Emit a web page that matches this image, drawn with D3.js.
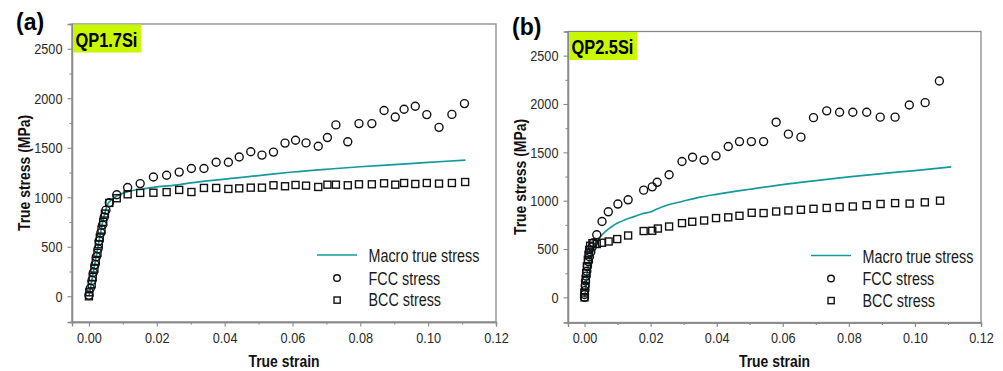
<!DOCTYPE html>
<html>
<head>
<meta charset="utf-8">
<script src="https://cdn.jsdelivr.net/npm/d3@7"></script>
<style>
  body { margin: 0; background: #fff; }
  svg { display: block; }
</style>
</head>
<body>
<div id="vis"></div>
<script>
// ---- datos: [true strain, true stress (MPa)] ----
const macroA = [[0,0],[0.001,190],[0.002,375],[0.003,560],[0.004,745],[0.005,880],[0.0055,929],[0.0067,975],[0.0086,1020],[0.0111,1053],[0.016,1085],[0.02,1105],[0.0268,1128],[0.03,1145],[0.04,1183],[0.05,1218],[0.054,1234],[0.06,1255],[0.072,1288],[0.08,1308],[0.09,1330],[0.1,1352],[0.111,1376]];
const fccA = [[0,10],[0.0004,80],[0.0009,160],[0.0013,240],[0.0018,320],[0.0022,400],[0.0027,480],[0.003,560],[0.0035,640],[0.004,720],[0.0045,800],[0.005,870],[0.006,945],[0.0082,1025],[0.0114,1098],[0.0151,1138],[0.019,1205],[0.0229,1222],[0.0266,1254],[0.0302,1290],[0.0339,1290],[0.0375,1354],[0.0411,1354],[0.0443,1407],[0.0477,1460],[0.051,1426],[0.0544,1456],[0.0578,1547],[0.0609,1576],[0.064,1549],[0.0676,1515],[0.0703,1603],[0.0728,1731],[0.0763,1560],[0.0796,1744],[0.0834,1744],[0.087,1876],[0.0903,1810],[0.0929,1889],[0.0962,1919],[0.0996,1835],[0.1032,1706],[0.107,1837],[0.1107,1946]];
const bccA = [[0,0],[0.0001,40],[0.0008,121],[0.0011,195],[0.0016,279],[0.002,357],[0.0025,438],[0.0029,525],[0.0032,593],[0.0037,673],[0.0042,751],[0.0047,835],[0.006,943],[0.0082,990],[0.0114,1030],[0.0151,1044],[0.019,1046],[0.0229,1052],[0.0266,1074],[0.0302,1053],[0.0339,1094],[0.0375,1094],[0.0411,1084],[0.0443,1090],[0.0477,1097],[0.051,1097],[0.0544,1121],[0.0578,1111],[0.0609,1124],[0.064,1117],[0.0676,1104],[0.0703,1127],[0.0728,1127],[0.0763,1121],[0.0796,1131],[0.0834,1131],[0.087,1141],[0.0903,1127],[0.0929,1144],[0.0962,1134],[0.0996,1144],[0.1032,1138],[0.107,1144],[0.1109,1154]];

const macroB = [[0,0],[0.0002,30],[0.0005,150],[0.0008,250],[0.0012,340],[0.0017,424],[0.0025,500],[0.0032,544],[0.0042,600],[0.0053,648],[0.0068,695],[0.0083,733],[0.01,768],[0.0123,803],[0.015,835],[0.0174,865],[0.0204,889],[0.0214,906],[0.0254,958],[0.0295,992],[0.035,1037],[0.04,1066],[0.05,1118],[0.06,1167],[0.07,1208],[0.08,1246],[0.09,1280],[0.1,1311],[0.111,1350]];
const fccB = [[0,0],[0,30],[0.0001,70],[0.0002,120],[0.0003,170],[0.0005,220],[0.0007,270],[0.0009,320],[0.0012,370],[0.0015,420],[0.0019,470],[0.0023,520],[0.0027,566],[0.0037,648],[0.0053,785],[0.0072,885],[0.0101,965],[0.0132,1009],[0.0179,1109],[0.0205,1143],[0.022,1190],[0.0256,1268],[0.0295,1405],[0.0327,1450],[0.0362,1420],[0.0398,1464],[0.0435,1560],[0.0469,1611],[0.0505,1611],[0.0542,1611],[0.058,1812],[0.0617,1688],[0.0655,1657],[0.0693,1859],[0.0733,1929],[0.0772,1915],[0.0812,1915],[0.0854,1915],[0.0895,1864],[0.094,1864],[0.0983,1990],[0.1031,2014],[0.1074,2238]];
const bccB = [[0,0],[0,50],[0.0002,114],[0.0004,183],[0.0005,252],[0.0007,320],[0.001,389],[0.0012,441],[0.0014,492],[0.0017,534],[0.0024,560],[0.0037,552],[0.0053,565],[0.0073,578],[0.0099,603],[0.0132,640],[0.0179,686],[0.0205,689],[0.0222,712],[0.0256,733],[0.0295,768],[0.0326,782],[0.0362,795],[0.0398,820],[0.0435,828],[0.0469,844],[0.0506,875],[0.0542,872],[0.058,888],[0.0617,899],[0.0655,906],[0.0693,916],[0.0733,925],[0.0772,934],[0.0812,940],[0.0854,954],[0.0896,966],[0.094,975],[0.0984,970],[0.103,983],[0.1076,1000]];

// ticks y textos
const xTicks = [0, 0.02, 0.04, 0.06, 0.08, 0.10, 0.12];
const xMinor = [0.01, 0.03, 0.05, 0.07, 0.09, 0.11];
const yTicks = [0, 500, 1000, 1500, 2000, 2500];
const yMinor = [250, 750, 1250, 1750, 2250];
const legendNames = ["Macro true stress", "FCC stress", "BCC stress"];

const WIDTH = 1003;
const HEIGHT = 371;
const TEAL = "#149a9b";
const AXIS_GRAY = "#8a8a8a";

const SVG = d3.select("#vis").append("svg").attr("width", WIDTH).attr("height", HEIGHT);

// Revisamos si existe la fuente angosta; si no, la simulamos con scale(0.82,1)
const p1 = SVG.append("text").attr("font-family", "'Liberation Sans Narrow', 'DejaVu Sans'").attr("font-size", 20).text("Macro true stress");
const p2 = SVG.append("text").attr("font-family", "'Liberation Sans'").attr("font-size", 20).text("Macro true stress");
const NARROW = p1.node().getComputedTextLength() < 0.9 * p2.node().getComputedTextLength();
p1.remove(); p2.remove();
const FONT = NARROW ? "'Liberation Sans Narrow'" : "'Liberation Sans', Arial, sans-serif";
const SQZ = NARROW ? "" : " scale(0.82,1)";

function label(g, x, y, s, o) {
    return g.append("g")
        .attr("transform", `translate(${x},${y})${o.rot ? " rotate(-90)" : ""}${o.wide ? "" : SQZ}`)
        .append("text")
        .attr("font-family", o.wide ? "'Liberation Sans', Arial, sans-serif" : FONT)
        .attr("font-size", o.size)
        .attr("font-weight", o.bold ? "bold" : null)
        .attr("text-anchor", o.anchor || "start")
        .attr("fill", o.fill || "#111")
        .text(s);
}

const panels = [
    { tag: "(a)", name: "QP1.7Si", x0: 72, x1: 496, y0: 24, y1: 322, macro: macroA, fcc: fccA, bcc: bccA,
      tagX: 16, tagY: 30, titleX: 30, legX: 317, legY: 255 },
    { tag: "(b)", name: "QP2.5Si", x0: 568, x1: 981, y0: 31.5, y1: 322.5, macro: macroB, fcc: fccB, bcc: bccB,
      tagX: 512, tagY: 35, titleX: 526, legX: 811, legY: 255.5 }
];

panels.forEach(p => {
    const g = SVG.append("g");
    const x = d3.scaleLinear().domain([-0.005, 0.12]).range([p.x0, p.x1]);
    const y = d3.scaleLinear().domain([-260, 2750]).range([p.y1, p.y0]);

    // marco
    g.append("rect")
        .attr("x", p.x0).attr("y", p.y0)
        .attr("width", p.x1 - p.x0).attr("height", p.y1 - p.y0)
        .attr("fill", "none").attr("stroke", AXIS_GRAY).attr("stroke-width", 1.3);

    // ejes menores
    g.append("g").attr("transform", `translate(0,${p.y1})`)
        .call(d3.axisBottom(x).tickValues(xMinor).tickSize(2.5).tickFormat(""));
    g.append("g").attr("transform", `translate(${p.x0},0)`)
        .call(d3.axisLeft(y).tickValues(yMinor).tickSize(2.5).tickFormat(""));

    // ejes mayores
    const ejeX = g.append("g").attr("transform", `translate(0,${p.y1})`)
        .call(d3.axisBottom(x).tickValues(xTicks).tickSize(4.5).tickPadding(5).tickFormat(d3.format(".2f")));
    const ejeY = g.append("g").attr("transform", `translate(${p.x0},0)`)
        .call(d3.axisLeft(y).tickValues(yTicks).tickSize(4.5).tickPadding(5).tickFormat(d3.format("d")));

    g.selectAll(".domain").attr("stroke", AXIS_GRAY).attr("stroke-width", 1.3);
    g.selectAll(".tick line").attr("stroke", AXIS_GRAY).attr("stroke-width", 1.1);
    [ejeX, ejeY].forEach(e => e.selectAll("text")
        .attr("font-family", FONT).attr("font-size", 15.5).attr("fill", "#2a2a2a")
        .each(function () {
            const t = d3.select(this);
            const tx = +t.attr("x") || 0;
            t.attr("x", 0).attr("transform", `translate(${tx},0)${SQZ}`);
        }));

    // titulos
    label(g, (p.x0 + p.x1) / 2, 367, "True strain", { size: 17, bold: true, anchor: "middle" });
    label(g, p.titleX, (p.y0 + p.y1) / 2, "True stress (MPa)", { size: 17, bold: true, anchor: "middle", rot: true });
    label(g, p.tagX, p.tagY, p.tag, { size: 23, bold: true, wide: true, fill: "#000" });

    // etiqueta verde
    g.append("rect").attr("x", p.x0 + 1).attr("y", p.y0 + 0.5).attr("width", 68).attr("height", 28).attr("fill", "#c9f700");
    label(g, p.x0 + 3.5, p.y0 + 22.5, p.name, { size: 20, bold: true, fill: "#000" });

    // curva macro
    g.append("path")
        .datum(p.macro)
        .attr("d", d3.line().x(d => x(d[0])).y(d => y(d[1])).curve(d3.curveMonotoneX))
        .attr("fill", "none").attr("stroke", TEAL).attr("stroke-width", 1.7);

    // BCC cuadrados
    g.append("g").selectAll("rect")
        .data(p.bcc)
        .join("rect")
        .attr("x", d => x(d[0]) - 3.5).attr("y", d => y(d[1]) - 3.5)
        .attr("width", 7).attr("height", 7)
        .attr("fill", "none").attr("stroke", "#111").attr("stroke-width", 1.4);

    // FCC circulos
    g.append("g").selectAll("circle")
        .data(p.fcc)
        .join("circle")
        .attr("cx", d => x(d[0])).attr("cy", d => y(d[1])).attr("r", 4)
        .attr("fill", "none").attr("stroke", "#111").attr("stroke-width", 1.4);

    // leyenda
    const lg = g.append("g").attr("transform", `translate(${p.legX},${p.legY})`);
    lg.append("line").attr("x1", 0).attr("x2", 40).attr("y1", 0).attr("y2", 0).attr("stroke", TEAL).attr("stroke-width", 1.7);
    lg.append("circle").attr("cx", 20).attr("cy", 23).attr("r", 3.3).attr("fill", "none").attr("stroke", "#111").attr("stroke-width", 1.4);
    lg.append("rect").attr("x", 17).attr("y", 42).attr("width", 6.2).attr("height", 6.2).attr("fill", "none").attr("stroke", "#111").attr("stroke-width", 1.4);
    legendNames.forEach((n, i) => label(lg, 51.5, [7, 29.5, 51][i], n, { size: 17.5, fill: "#1a1a1a" }));
});
</script>
</body>
</html>
